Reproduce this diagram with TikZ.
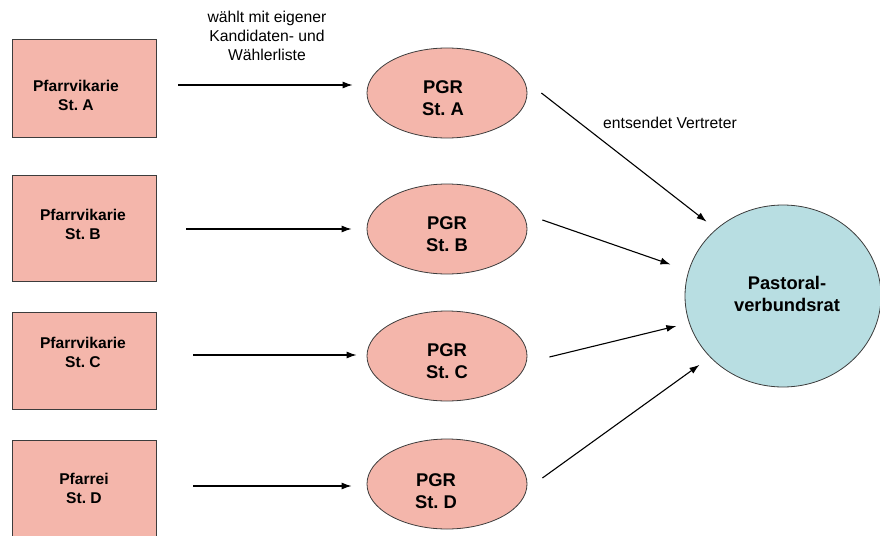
\documentclass[tikz,border=0pt]{standalone}
\usepackage{fontspec}
\setmainfont{Liberation Sans}
\usetikzlibrary{shapes.geometric,arrows.meta}
\definecolor{salmon}{RGB}{244,182,171}
\definecolor{paleblue}{RGB}{184,222,226}
\definecolor{rim}{RGB}{60,60,60}
\frenchspacing

\begin{document}
\begin{tikzpicture}[x=1pt,y=-1pt,>={Latex[length=10pt,width=7pt]},
	pbox/.style={rectangle,draw=rim,line width=0.9pt,fill=salmon,minimum width=144pt,inner sep=0pt},
	btext/.style={align=center,font=\bfseries\fontsize{15.6}{19}\selectfont},
	pgr/.style={ellipse,draw=rim,line width=0.8pt,fill=salmon,minimum width=160pt,minimum height=90pt,inner sep=0pt},
	ptext/.style={align=center,font=\bfseries\fontsize{18.4}{22}\selectfont},
	lbl/.style={align=center,font=\fontsize{15.7}{19}\selectfont},
	link/.style={->,line width=1.1pt}
	]

	\useasboundingbox (0,0) rectangle (880,535);
	\clip (0,0) rectangle (880,535);

	% Pfarrvikarien
	\node[pbox,minimum height=98pt] (va) at (84,88) {};
	\node[pbox,minimum height=106pt] (vb) at (84,228) {};
	\node[pbox,minimum height=97pt] (vc) at (84,360.5) {};
	\node[pbox,minimum height=100pt] (vd) at (84,490) {};

	\node[btext] (vatext) at (76,95) {Pfarrvikarie\\St. A};
	\node[btext] (vbtext) at (83,224) {Pfarrvikarie\\St. B};
	\node[btext] (vctext) at (83,352) {Pfarrvikarie\\St. C};
	\node[btext] (vdtext) at (84,488) {Pfarrei\\St. D};

	% PGR
	\node[pgr] (pa) at (447,93) {};
	\node[pgr] (pb) at (447,229) {};
	\node[pgr] (pc) at (447,356) {};
	\node[pgr] (pd) at (447,484) {};

	\node[ptext] (patext) at (443,98) {PGR\\St. A};
	\node[ptext] (pbtext) at (447,234) {PGR\\St. B};
	\node[ptext] (pctext) at (447,361) {PGR\\St. C};
	\node[ptext] (pdtext) at (436,491) {PGR\\St. D};

	% Pastoralverbundsrat
	\node[ellipse,draw=rim,line width=0.8pt,fill=paleblue,minimum width=196pt,minimum height=182pt,inner sep=0pt] (pvr) at (783,296) {};
	\node[ptext,font=\bfseries\fontsize{18.3}{22}\selectfont] (pvrtext) at (787,294) {Pastoral-\\verbundsrat};

	\draw[link] ([shift={(22,-3)}]va.east) -- ([shift={(-14,-8)}]pa.west);
	\draw[link] ([shift={(30,1)}]vb.east) -- ([shift={(-15,0)}]pb.west);
	\draw[link] ([shift={(37,-5.5)}]vc.east) -- ([shift={(-10,-1)}]pc.west);
	\draw[link] ([shift={(37,-4)}]vd.east) -- ([shift={(-15,2)}]pd.west);

	\draw[link,shorten >=12pt] ([shift={(14,0)}]pa.east) -- (pvr.135);
	\draw[link,shorten >=19pt] ([shift={(15,-9)}]pb.east) -- (pvr.165);
	\draw[link,shorten >=13pt] ([shift={(22,1)}]pc.east) -- (pvr.196);
	\draw[link,shorten >=13pt] ([shift={(15,-6)}]pd.east) -- (pvr.220);

	% labels
	\node[lbl] (waehlt) at (267,36) {wählt mit eigener\\Kandidaten- und\\Wählerliste};
	\node[lbl] (entsendet) at (670,123) {entsendet Vertreter};

\end{tikzpicture}
\end{document}
